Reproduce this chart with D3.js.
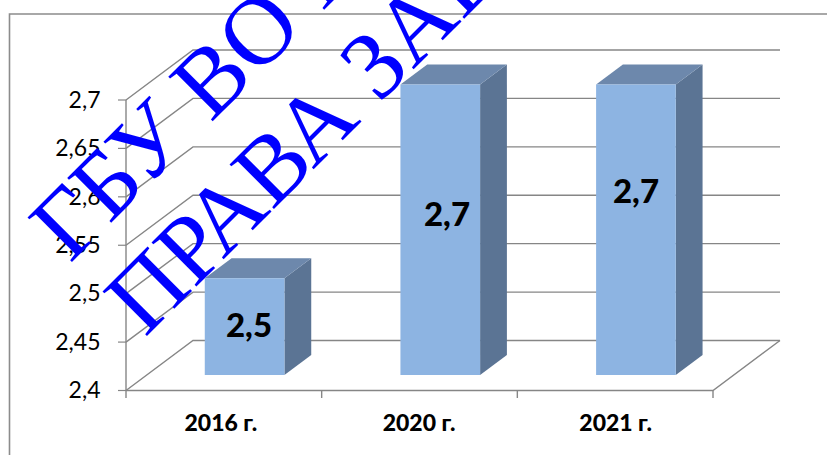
<!DOCTYPE html>
<html><head><meta charset="utf-8">
<script src="https://cdn.jsdelivr.net/npm/d3@7"></script>
<style>html,body{margin:0;padding:0;background:#fff}svg{display:block}</style>
</head><body><svg id="c" width="827" height="455"></svg>
<script>
const categories = ["2016 г.", "2020 г.", "2021 г."];
const values = [2.5, 2.7, 2.7];
const valueLabels = ["2,5", "2,7", "2,7"];
const yTicks = [2.4, 2.45, 2.5, 2.55, 2.6, 2.65, 2.7];
const yTickLabels = ["2,4", "2,45", "2,5", "2,55", "2,6", "2,65", "2,7"];
const watermarkLines = ["ГБУ ВО Н", "ПРАВА ЗАЩ"];

// layout only
const labelPosX = [249, 447, 636];
const labelPosY = [326, 215, 192];
const catShift = [-3, -0.5, 0.5];
const wmX = [70, 145];
const wmY = [264, 338];

const svg = d3.select("#c");
const x = d3.scaleBand().domain(categories).range([126, 713]);
const y = d3.scaleLinear().domain([2.4, 2.7]).range([390.5, 100]);
const depthX = d3.scaleLinear().domain([0, 1]).range([0, 67]);
const depthY = d3.scaleLinear().domain([0, 1]).range([0, -50]);
const P = (px, v, d) => [px + depthX(d), y(v) + depthY(d)];
const line = d3.line();
const grid = "#868686";
const font = "Lato, Carlito, sans-serif";

svg.append("path").attr("d", "M9.5 455V14H827").attr("fill", "none").attr("stroke", "#8c8c8c").attr("stroke-width", 1.6);

yTicks.forEach((t, i) => {
  svg.append("path").attr("fill", "none").attr("stroke", grid).attr("stroke-width", 1.4)
    .attr("d", line([P(126, t, 0), P(126, t, 1), P(713, t, 1)]));
  svg.append("path").attr("stroke", grid).attr("stroke-width", 1.2)
    .attr("d", line([[118, y(t)], [126, y(t)]]));
  svg.append("text").attr("x", 100.5).attr("y", y(t)).attr("dy", "0.34em")
    .attr("text-anchor", "end").attr("font-family", font).attr("font-size", 23).attr("fill", "#000").text(yTickLabels[i]);
});
svg.append("path").attr("fill", "none").attr("stroke", grid).attr("stroke-width", 1.4)
  .attr("d", line([P(126, 2.4, 0), P(713, 2.4, 0), P(713, 2.4, 1)]));
svg.append("path").attr("stroke", grid).attr("stroke-width", 1.4)
  .attr("d", line([P(126, 2.4, 0), P(126, 2.7, 0)]));
[...categories.map(c => x(c)), 713].forEach(px => {
  svg.append("path").attr("stroke", grid).attr("stroke-width", 1.4).attr("d", line([[px, 390.5], [px, 398]]));
});

const dFront = 0.31, dBack = 0.71, inset = 58;
categories.forEach((c, i) => {
  const l = x(c) + inset, r = x(c) + x.bandwidth() - inset, v = values[i];
  const g = svg.append("g");
  g.append("path").attr("fill", "#5b7494")
    .attr("d", line([P(r, 2.4, dFront), P(r, 2.4, dBack), P(r, v, dBack), P(r, v, dFront)]) + "Z");
  g.append("path").attr("fill", "#6d88ac")
    .attr("d", line([P(l, v, dFront), P(l, v, dBack), P(r, v, dBack), P(r, v, dFront)]) + "Z");
  g.append("path").attr("fill", "#8db4e2")
    .attr("d", line([P(l, 2.4, dFront), P(r, 2.4, dFront), P(r, v, dFront), P(l, v, dFront)]) + "Z");
  svg.append("text").attr("x", labelPosX[i]).attr("y", labelPosY[i])
    .attr("dy", "0.34em").attr("text-anchor", "middle").attr("font-family", font).attr("font-weight", 900)
    .attr("font-size", 33).attr("fill", "#000").text(valueLabels[i]);
  svg.append("text").attr("x", x(c) + x.bandwidth() / 2 + catShift[i]).attr("y", 423).attr("dy", "0.34em")
    .attr("text-anchor", "middle").attr("font-family", font).attr("font-weight", 900)
    .attr("font-size", 23).attr("fill", "#000").text(c);
});

watermarkLines.forEach((t, i) => {
  svg.append("text").attr("transform", `translate(${wmX[i]},${wmY[i]}) rotate(-45)`)
    .attr("font-family", "'Liberation Serif', serif").attr("font-size", 96).attr("fill", "#0000ff").text(t);
});
</script></body></html>
